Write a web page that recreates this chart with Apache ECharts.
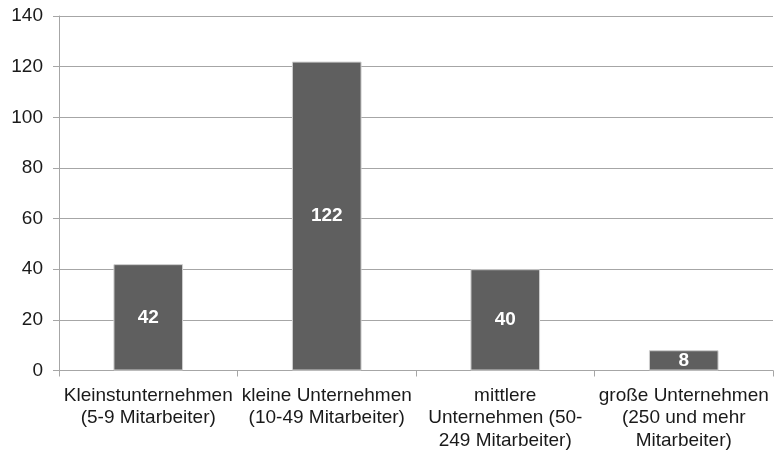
<!DOCTYPE html>
<html>
<head>
<meta charset="utf-8">
<script src="https://cdn.jsdelivr.net/npm/echarts@6/dist/echarts.min.js"></script>
<style>
  html, body { margin: 0; padding: 0; background: #fff; }
  #container { width: 775px; height: 452px; }
</style>
</head>
<body>
<div id="container"></div>
<script>
// Unternehmensgröße
var categories = [
    'Kleinstunternehmen\n(5-9 Mitarbeiter)',
    'kleine Unternehmen\n(10-49 Mitarbeiter)',
    'mittlere\nUnternehmen (50-\n249 Mitarbeiter)',
    'große Unternehmen\n(250 und mehr\nMitarbeiter)'
];
var values = [42, 122, 40, 8];
var yTicks = { min: 0, max: 140, interval: 20 };

var myChart = echarts.init(document.getElementById('container'));
var options = {
    animation: false,
    textStyle: { fontFamily: '"Liberation Sans", Arial, sans-serif' },
    grid: {
        left: 59,
        right: 2,
        top: 16,
        bottom: 80
    },
    xAxis: {
        type: 'category',
        data: categories,
        axisLine: { lineStyle: { color: '#a6a6a6', width: 1 } },
        axisTick: { show: true, length: 6, lineStyle: { color: '#a6a6a6' } },
        axisLabel: {
            interval: 0,
            margin: 14,
            color: '#1a1a1a',
            fontSize: 19,
            lineHeight: 22.5,
            align: 'center'
        }
    },
    yAxis: {
        type: 'value',
        min: yTicks.min,
        max: yTicks.max,
        interval: yTicks.interval,
        axisLine: { show: true, lineStyle: { color: '#a6a6a6', width: 1 } },
        axisTick: { show: true, length: 6, lineStyle: { color: '#a6a6a6' } },
        splitLine: { lineStyle: { color: '#a6a6a6', width: 1 } },
        axisLabel: { color: '#1a1a1a', fontSize: 19, margin: 16 }
    },
    series: [{
        type: 'bar',
        data: values,
        barWidth: '39%',
        itemStyle: {
            color: '#5f5f5f',
            borderColor: '#cfcfcf',
            borderWidth: 1
        },
        label: {
            show: true,
            position: 'inside',
            color: '#ffffff',
            fontWeight: 'bold',
            fontSize: 19
        }
    }]
};
myChart.setOption(options, true);
</script>
</body>
</html>
